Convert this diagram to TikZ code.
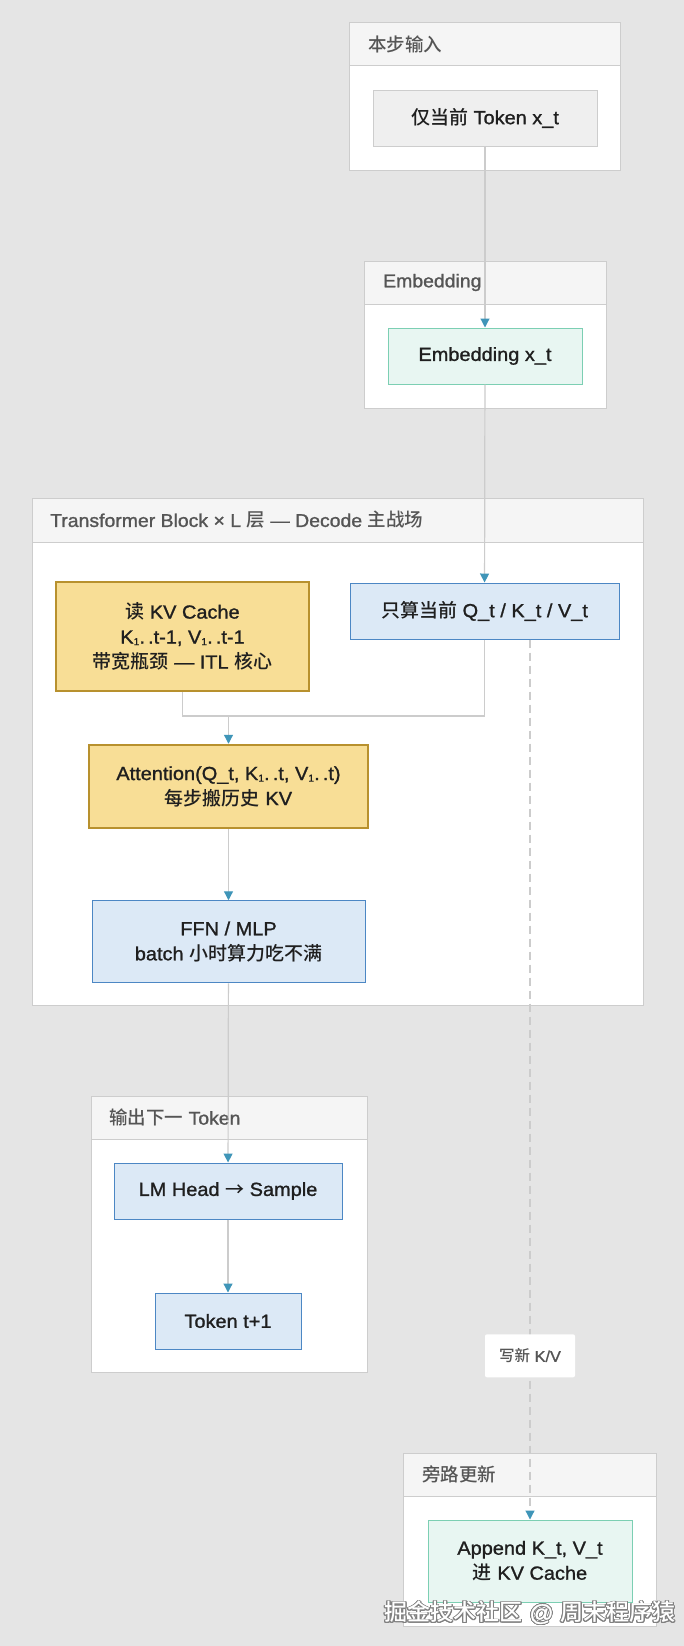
\documentclass[tikz,border=0pt]{standalone}
\usepackage{fontspec}
\setmainfont{Liberation Sans}[FakeStretch=1.05, FakeBold=1.2]
\newfontfamily\zhfont{Noto Sans CJK SC Medium}
\usepackage{tikz}
\usepackage{contour}
\usetikzlibrary{arrows,arrows.meta,positioning,calc}

\definecolor{bgc}{HTML}{E5E5E5}
\definecolor{framec}{HTML}{CDCDCD}
\definecolor{headc}{HTML}{F5F5F5}
\definecolor{titlec}{HTML}{555555}
\definecolor{inkc}{HTML}{1F1F1F}
\definecolor{bluec}{HTML}{4C87C4}
\definecolor{bluefill}{HTML}{DCE9F6}
\definecolor{goldc}{HTML}{B8912E}
\definecolor{goldfill}{HTML}{F8DE96}
\definecolor{mintc}{HTML}{7CCFB3}
\definecolor{mintfill}{HTML}{E8F6F2}
\definecolor{greyfill}{HTML}{EFEFEF}
\definecolor{linec}{HTML}{CCCCCC}
\definecolor{tipc}{HTML}{3F95B8}

\newcommand*{\zh}[1]{{\zhfont #1}}
\newcommand*{\blockfont}{\fontsize{19}{25}\selectfont}
\newcommand*{\framefont}{\fontsize{18.5}{20}\selectfont}
\newcommand*{\lowone}{\raisebox{-0.15ex}{\fontsize{10}{10}\selectfont 1}}
\contourlength{0.8pt}

\begin{document}
\begin{tikzpicture}[x=1pt, y=-1pt]
    \tikzstyle{frame} = [draw=framec, fill=white, line width=1pt]
    \tikzstyle{framehead} = [draw=framec, fill=headc, line width=1pt]
    \tikzstyle{title} = [anchor=west, inner sep=0pt, text=titlec, font=\framefont]
    \tikzstyle{block} = [rectangle, inner sep=0pt, align=center, text=inkc, font=\blockfont, draw=bluec, fill=bluefill, line width=1pt]
    \tikzstyle{gold} = [block, draw=goldc, fill=goldfill, line width=2.5pt]
    \tikzstyle{mint} = [block, draw=mintc, fill=mintfill]
    \tikzstyle{grey} = [block, draw=framec, fill=greyfill]
    \tikzstyle{link} = [draw=linec, line width=1.2pt]
    \tikzstyle{arrow} = [link, -{Triangle[width=9pt, length=9pt, color=tipc]}]

    \useasboundingbox (0,0) rectangle (684,1646);
    \fill[bgc] (0,0) rectangle (684,1646);

    \draw[frame] (349,23) rectangle (620,170);
    \draw[framehead] (349,23) rectangle (620,66);
    \node (intitle) [title] at (368,44.5) {\zh{本步输入}};

    \draw[frame] (364,261) rectangle (606,408);
    \draw[framehead] (364,261) rectangle (606,304);
    \node (embtitle) [title] at (383,282.5) {Embedding};

    \draw[frame] (32,498) rectangle (643,1005);
    \draw[framehead] (32,498) rectangle (643,542);
    \node (blocktitle) [title] at (50,520) {Transformer Block × L \zh{层} — Decode \zh{主战场}};

    \draw[frame] (91,1096) rectangle (367,1372);
    \draw[framehead] (91,1096) rectangle (367,1139);
    \node (outtitle) [title] at (109,1117.5) {\zh{输出下一} Token};

    \draw[frame] (403,1453) rectangle (656,1626);
    \draw[framehead] (403,1453) rectangle (656,1496);
    \node (sidetitle) [title] at (422,1474.5) {\zh{旁路更新}};

    \node (tok) [grey, minimum width=224pt, minimum height=56pt] at (485,118) {\zh{仅当前} Token x\_t};

    \node (emb) [mint, minimum width=194pt, minimum height=56pt] at (485,356) {Embedding x\_t};

    \node (kvread) [gold, minimum width=253pt, minimum height=109pt] at (182.5,636.5) {\zh{读} KV Cache\\K\lowone.\,.t-1, V\lowone.\,.t-1\\\zh{带宽瓶颈} — ITL \zh{核心}};

    \node (qkv) [block, minimum width=269pt, minimum height=56pt] at (484.5,611) {\zh{只算当前} Q\_t / K\_t / V\_t};

    \node (attn) [gold, minimum width=279pt, minimum height=83pt] at (228.5,786.5) {Attention(Q\_t, K\lowone.\,.t, V\lowone.\,.t)\\\zh{每步搬历史} KV};

    \node (ffn) [block, minimum width=273pt, minimum height=82pt, below=71pt of attn] {FFN / MLP\\batch \zh{小时算力吃不满}};

    \node (lmhead) [block, minimum width=228pt, minimum height=56pt] at (228,1191) {LM Head \raisebox{-0.1ex}{\zh{→}} Sample};

    \node (tnext) [block, minimum width=146pt, minimum height=56pt, below=73pt of lmhead] {Token t+1};

    \node (append) [mint, minimum width=204pt, minimum height=82pt] at (530,1561) {Append K\_t, V\_t\\\zh{进} KV Cache};

    \coordinate (merge) at (228.5,716);

    \draw [arrow] (tok) -- (emb);
    \draw [arrow] (emb) -- (qkv);
    \draw [link] (kvread.south) |- (merge);
    \draw [link] (qkv.south) |- (merge);
    \draw [arrow] (merge) -- (attn.north);
    \draw [arrow] (attn) -- (ffn);
    \draw [arrow] (ffn) -- (lmhead);
    \draw [arrow] (lmhead) -- (tnext);
    \draw [arrow, dash pattern=on 8pt off 5pt] (append.north |- qkv.south) -- node[pos=0.814, fill=white, rounded corners=2pt, minimum width=90pt, minimum height=43pt, text=titlec, font=\fontsize{15.5}{16}\selectfont] (kvnote) {\zh{写新} K/V} (append.north);

    \node (mark) [text=white, font=\fontsize{23}{24}\selectfont] at (530,1613) {\contour{gray}{\zh{掘金技术社区} @ \zh{周末程序猿}}};
\end{tikzpicture}
\end{document}
